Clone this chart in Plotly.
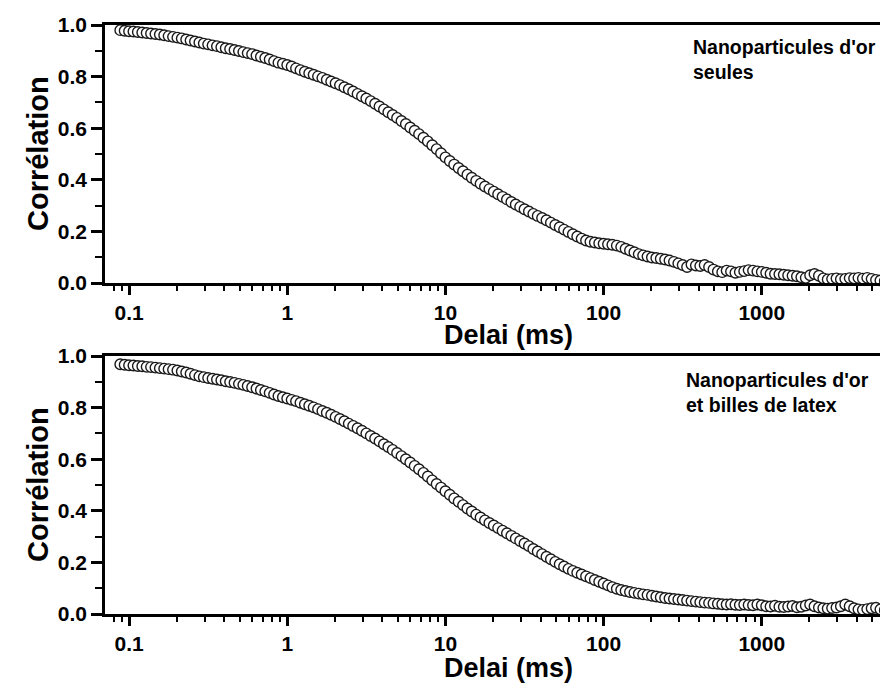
import plotly.graph_objects as go

# Delay (ms) - correlator channels
delay_ms = [
    0.0880, 0.0938,
    0.1000, 0.1066, 0.1136, 0.1212, 0.1292, 0.1377, 0.1468, 0.1565, 0.1668, 0.1778, 0.1896, 0.2021,
    0.2154, 0.2297, 0.2448, 0.2610, 0.2783, 0.2967, 0.3162, 0.3371, 0.3594, 0.3831, 0.4084, 0.4354,
    0.4642, 0.4948, 0.5275, 0.5623, 0.5995, 0.6391, 0.6813, 0.7263, 0.7743, 0.8254, 0.8799, 0.9380,
    1.000, 1.066, 1.136, 1.212, 1.292, 1.377, 1.468, 1.565, 1.668, 1.778, 1.896, 2.021,
    2.154, 2.297, 2.448, 2.610, 2.783, 2.967, 3.162, 3.371, 3.594, 3.831, 4.084, 4.354,
    4.642, 4.948, 5.275, 5.623, 5.995, 6.391, 6.813, 7.263, 7.743, 8.254, 8.799, 9.380,
    10.00, 10.66, 11.36, 12.12, 12.92, 13.77, 14.68, 15.65, 16.68, 17.78, 18.96, 20.21,
    21.54, 22.97, 24.48, 26.10, 27.83, 29.67, 31.62, 33.71, 35.94, 38.31, 40.84, 43.54,
    46.42, 49.48, 52.75, 56.23, 59.95, 63.91, 68.13, 72.63, 77.43, 82.54, 87.99, 93.80,
    100.0, 106.6, 113.6, 121.2, 129.2, 137.7, 146.8, 156.5, 166.8, 177.8, 189.6, 202.1,
    215.4, 229.7, 244.8, 261.0, 278.3, 296.7, 316.2, 337.1, 359.4, 383.1, 408.4, 435.4,
    464.2, 494.8, 527.5, 562.3, 599.5, 639.1, 681.3, 726.3, 774.3, 825.4, 879.9, 938.0,
    1000, 1066, 1136, 1212, 1292, 1377, 1468, 1565, 1668, 1778, 1896, 2021,
    2154, 2297, 2448, 2610, 2783, 2967, 3162, 3371, 3594, 3831, 4084, 4354,
    4642, 4948, 5275, 5623, 5995,
]

# Correlation - gold nanoparticles alone (top panel)
corr_gold = [
    0.980, 0.978,
    0.976, 0.975, 0.973, 0.971, 0.969, 0.967, 0.965, 0.963, 0.960, 0.957, 0.954, 0.951,
    0.948, 0.944, 0.940, 0.936, 0.932, 0.928, 0.925, 0.921, 0.918, 0.914, 0.910, 0.907,
    0.903, 0.899, 0.895, 0.891, 0.887, 0.882, 0.877, 0.872, 0.866, 0.860, 0.854, 0.850,
    0.845, 0.839, 0.832, 0.825, 0.819, 0.813, 0.807, 0.801, 0.795, 0.788, 0.781, 0.774,
    0.767, 0.759, 0.751, 0.742, 0.733, 0.724, 0.715, 0.705, 0.695, 0.684, 0.673, 0.662,
    0.651, 0.640, 0.628, 0.616, 0.603, 0.590, 0.577, 0.563, 0.549, 0.534, 0.519, 0.503,
    0.487, 0.473, 0.459, 0.446, 0.433, 0.420, 0.408, 0.396, 0.385, 0.374, 0.364, 0.354,
    0.344, 0.334, 0.324, 0.314, 0.304, 0.295, 0.286, 0.277, 0.268, 0.260, 0.252, 0.243,
    0.234, 0.225, 0.216, 0.207, 0.198, 0.189, 0.180, 0.172, 0.165, 0.160, 0.157, 0.154,
    0.152, 0.150, 0.148, 0.145, 0.140, 0.133, 0.126, 0.119, 0.112, 0.107, 0.103, 0.099,
    0.097, 0.094, 0.091, 0.087, 0.082, 0.076, 0.070, 0.062, 0.072, 0.068, 0.066, 0.070,
    0.062, 0.052, 0.045, 0.042, 0.048, 0.045, 0.040, 0.043, 0.046, 0.050, 0.048, 0.045,
    0.043, 0.040, 0.036, 0.035, 0.034, 0.032, 0.030, 0.028, 0.026, 0.022, 0.020, 0.030,
    0.035, 0.028, 0.018, 0.014, 0.016, 0.018, 0.015, 0.016, 0.019, 0.018, 0.020, 0.017,
    0.020, 0.016, 0.012, 0.010, 0.008,
]

# Correlation - gold nanoparticles and latex beads (bottom panel)
corr_gold_latex = [
    0.968, 0.966,
    0.964, 0.963, 0.961, 0.960, 0.958, 0.957, 0.955, 0.953, 0.951, 0.949, 0.947, 0.944,
    0.940, 0.936, 0.931, 0.926, 0.921, 0.918, 0.915, 0.912, 0.909, 0.906, 0.902, 0.899,
    0.896, 0.892, 0.888, 0.884, 0.879, 0.874, 0.868, 0.863, 0.857, 0.851, 0.845, 0.840,
    0.835, 0.830, 0.825, 0.819, 0.813, 0.807, 0.801, 0.794, 0.787, 0.780, 0.772, 0.764,
    0.756, 0.747, 0.738, 0.729, 0.720, 0.710, 0.700, 0.690, 0.680, 0.669, 0.658, 0.647,
    0.636, 0.624, 0.612, 0.600, 0.587, 0.574, 0.561, 0.547, 0.533, 0.518, 0.504, 0.490,
    0.476, 0.462, 0.448, 0.435, 0.422, 0.409, 0.397, 0.385, 0.374, 0.363, 0.353, 0.343,
    0.333, 0.323, 0.313, 0.303, 0.293, 0.283, 0.273, 0.263, 0.252, 0.242, 0.232, 0.222,
    0.212, 0.202, 0.193, 0.184, 0.175, 0.167, 0.160, 0.153, 0.146, 0.139, 0.132, 0.125,
    0.118, 0.111, 0.104, 0.098, 0.093, 0.089, 0.085, 0.082, 0.079, 0.076, 0.074, 0.071,
    0.068, 0.065, 0.062, 0.060, 0.058, 0.056, 0.054, 0.052, 0.050, 0.048, 0.046, 0.044,
    0.043, 0.041, 0.040, 0.038, 0.037, 0.038, 0.036, 0.035, 0.037, 0.035, 0.034, 0.037,
    0.034, 0.030, 0.029, 0.032, 0.028, 0.027, 0.029, 0.031, 0.026, 0.028, 0.033, 0.037,
    0.030, 0.025, 0.022, 0.021, 0.023, 0.025, 0.030, 0.037, 0.030, 0.022, 0.018, 0.016,
    0.019, 0.022, 0.024, 0.018, 0.015,
]

x_tick_vals = [0.1, 1, 10, 100, 1000]
x_tick_text = ["0.1", "1", "10", "100", "1000"]
x_minor_vals = [0.07, 0.08, 0.09] + [m * 10.0 ** d for d in range(-1, 4) for m in range(2, 10)]
y_tick_vals = [0.0, 0.2, 0.4, 0.6, 0.8, 1.0]
y_tick_text = ["0.0", "0.2", "0.4", "0.6", "0.8", "1.0"]

labels = ["Nanoparticules d'or<br>seules", "Nanoparticules d'or<br>et billes de latex"]

assert len(delay_ms) == len(corr_gold) == len(corr_gold_latex)

FONT = "Liberation Sans, Arial, Helvetica, sans-serif"
# The page body has an 8px margin, so the figure is 8px smaller and all
# reference pixel positions are shifted by OFF.
OFF = 8
W, H = 888 - OFF, 684 - OFF
L = 105 - OFF
PW = W - L

fig = go.Figure()

marker = dict(symbol="circle", size=10.5, color="white", line=dict(color="#1a1a1a", width=1.4))
fig.add_trace(go.Scatter(x=delay_ms, y=corr_gold, mode="markers", marker=marker,
                         xaxis="x", yaxis="y", cliponaxis=False, showlegend=False))
fig.add_trace(go.Scatter(x=delay_ms, y=corr_gold_latex, mode="markers", marker=marker,
                         xaxis="x2", yaxis="y2", cliponaxis=False, showlegend=False))

def py(px):
    return (H - (px - OFF)) / H

def px_(x):
    return (x - OFF - L) / PW

xrange_log = [-1.152, 3.798]
xcommon = dict(
    type="log", range=xrange_log, domain=[0, 1],
    showline=True, linecolor="black", linewidth=2.5, mirror=True,
    ticks="outside", ticklen=9, tickwidth=2.5, tickcolor="black",
    tickmode="array", tickvals=x_tick_vals, ticktext=x_tick_text,
    tickfont=dict(family=FONT, size=21, color="black", weight="bold"),
    ticklabelstandoff=0,
    showgrid=False, zeroline=False, automargin=False,
    minor=dict(tickmode="array", tickvals=x_minor_vals, ticks="outside", ticklen=5,
               tickwidth=2, tickcolor="black", showgrid=False),
)
ycommon = dict(
    range=[0, 1], showline=True, linecolor="black", linewidth=2.5, mirror=False,
    ticks="outside", ticklen=11, tickwidth=2.5, tickcolor="black",
    tickmode="array", tickvals=y_tick_vals, ticktext=y_tick_text,
    tickfont=dict(family=FONT, size=21, color="black", weight="bold"),
    showgrid=False, zeroline=False, automargin=False,
    minor=dict(dtick=0.1, ticks="outside", ticklen=7, tickwidth=2, tickcolor="black", showgrid=False),
)

fig.update_layout(
    width=W, height=H,
    margin=dict(l=L, r=0, t=0, b=0, autoexpand=False),
    paper_bgcolor="white", plot_bgcolor="white",
    xaxis=dict(xcommon, anchor="y"),
    yaxis=dict(ycommon, domain=[py(283), py(25)], anchor="x"),
    xaxis2=dict(xcommon, anchor="y2"),
    yaxis2=dict(ycommon, domain=[py(614), py(356)], anchor="x2"),
    showlegend=False,
)

ann = []
for yc in [(25 + 283) / 2, (356 + 614) / 2]:
    ann.append(dict(text="Corrélation", xref="paper", yref="paper", x=px_(38), y=py(yc),
                    xanchor="center", yanchor="middle", textangle=-90, showarrow=False,
                    font=dict(family=FONT, size=29, color="black", weight="bold")))
for yc in [335, 668]:
    ann.append(dict(text="Delai (ms)", xref="paper", yref="paper", x=px_(508), y=py(yc),
                    xanchor="center", yanchor="middle", showarrow=False,
                    font=dict(family=FONT, size=27, color="black", weight="bold")))
label_font = dict(family=FONT, size=19.5, color="black", weight="bold")
for txt, xl, yc in [(labels[0], 691, 59), (labels[1], 684, 392)]:
    ann.append(dict(text=txt, xref="paper", yref="paper", x=px_(xl), y=py(yc),
                    xanchor="left", yanchor="middle", align="left", showarrow=False, font=label_font))
fig.update_layout(annotations=ann)

fig.write_html("out.html")
